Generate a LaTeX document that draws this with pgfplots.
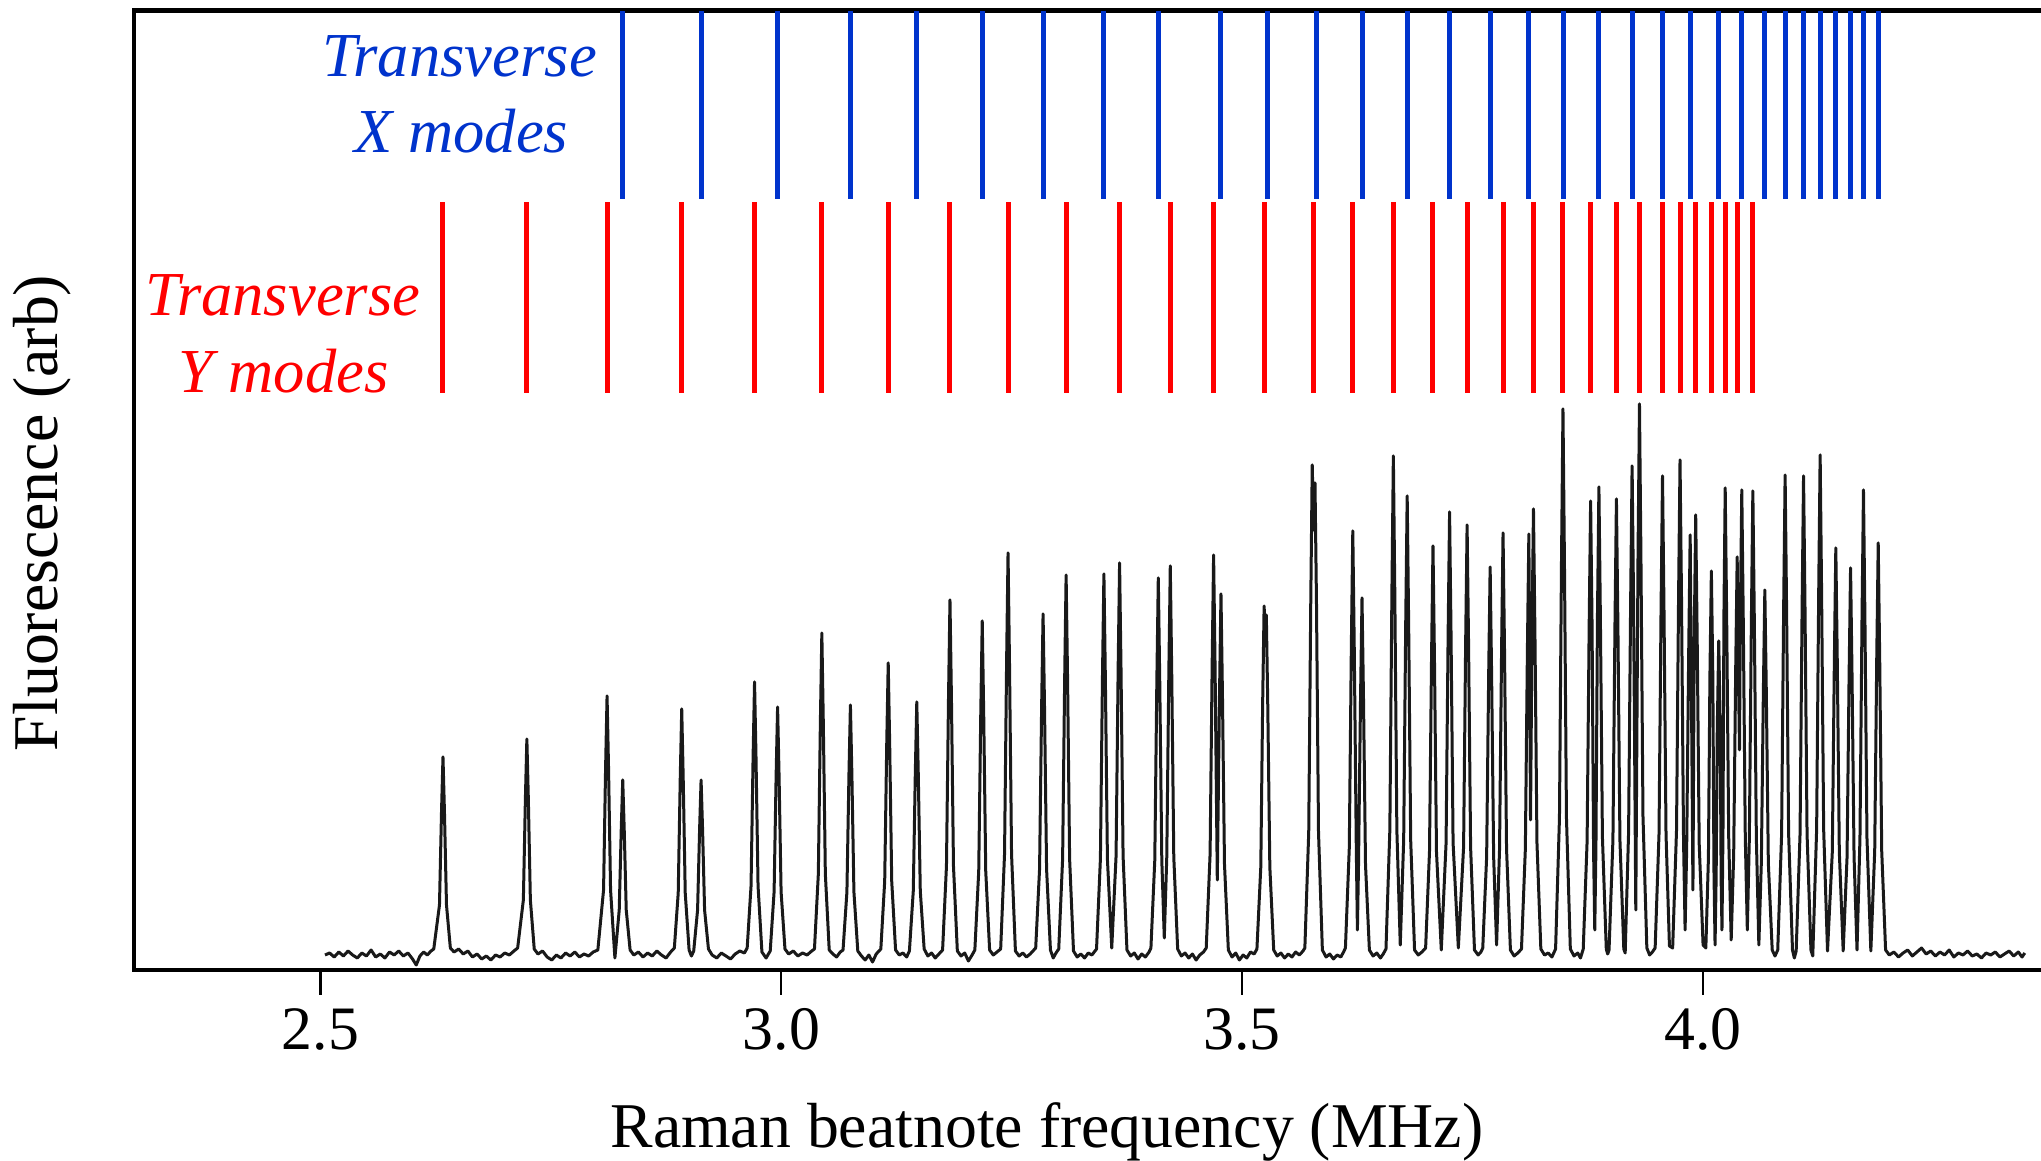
\documentclass[border=0pt]{standalone}
\usepackage{pgfplots}
\pgfplotsset{compat=1.18}
\usepackage{fontspec}
\setmainfont{Liberation Serif}
\definecolor{xblue}{RGB}{0,51,204}
\definecolor{yred}{RGB}{255,0,0}
\begin{document}
\begin{tikzpicture}
\begin{axis}[
  at={(0,0)}, anchor=south west,
  scale only axis, width=476.75bp, height=239.8bp,
  xmin=2.2978, xmax=4.3666, ymin=0, ymax=959,
  axis x line=box, axis y line=left,
  axis line style={-, line width=1.2bp, line cap=rect},
  xtick={2.5,3.0,3.5,4.0}, xticklabels={2.5,3.0,3.5,4.0},
  xtick pos=bottom, ytick=\empty,
  tick align=outside, major tick length=6.2bp,
  tick style={line width=0.6bp, black},
  xticklabel style={font=\fontsize{15.5}{15.5}\selectfont},
  xlabel={Raman beatnote frequency (MHz)},
  ylabel={Fluorescence (arb)},
  label style={font=\fontsize{16}{16}\selectfont},
  xlabel style={at={(axis description cs:0.4787,0)}, anchor=center, yshift=-40.4bp},
  ylabel style={at={(axis description cs:-0.048,0.4765)}, anchor=center},
  unbounded coords=jump,
]
% transverse X modes (blue)
\addplot[xblue, line width=1.25bp] coordinates {
(2.828,771) (2.828,959) (2.828,nan)
(2.913,771) (2.913,959) (2.913,nan)
(2.996,771) (2.996,959) (2.996,nan)
(3.075,771) (3.075,959) (3.075,nan)
(3.147,771) (3.147,959) (3.147,nan)
(3.218,771) (3.218,959) (3.218,nan)
(3.284,771) (3.284,959) (3.284,nan)
(3.350,771) (3.350,959) (3.350,nan)
(3.409,771) (3.409,959) (3.409,nan)
(3.477,771) (3.477,959) (3.477,nan)
(3.528,771) (3.528,959) (3.528,nan)
(3.581,771) (3.581,959) (3.581,nan)
(3.630,771) (3.630,959) (3.630,nan)
(3.679,771) (3.679,959) (3.679,nan)
(3.725,771) (3.725,959) (3.725,nan)
(3.769,771) (3.769,959) (3.769,nan)
(3.811,771) (3.811,959) (3.811,nan)
(3.849,771) (3.849,959) (3.849,nan)
(3.887,771) (3.887,959) (3.887,nan)
(3.923,771) (3.923,959) (3.923,nan)
(3.956,771) (3.956,959) (3.956,nan)
(3.986,771) (3.986,959) (3.986,nan)
(4.017,771) (4.017,959) (4.017,nan)
(4.042,771) (4.042,959) (4.042,nan)
(4.067,771) (4.067,959) (4.067,nan)
(4.089,771) (4.089,959) (4.089,nan)
(4.109,771) (4.109,959) (4.109,nan)
(4.127,771) (4.127,959) (4.127,nan)
(4.144,771) (4.144,959) (4.144,nan)
(4.160,771) (4.160,959) (4.160,nan)
(4.174,771) (4.174,959) (4.174,nan)
(4.190,771) (4.190,959)
};
% transverse Y modes (red)
\addplot[yred, line width=1.25bp] coordinates {
(2.633,577) (2.633,768) (2.633,nan)
(2.724,577) (2.724,768) (2.724,nan)
(2.811,577) (2.811,768) (2.811,nan)
(2.892,577) (2.892,768) (2.892,nan)
(2.971,577) (2.971,768) (2.971,nan)
(3.044,577) (3.044,768) (3.044,nan)
(3.116,577) (3.116,768) (3.116,nan)
(3.183,577) (3.183,768) (3.183,nan)
(3.246,577) (3.246,768) (3.246,nan)
(3.309,577) (3.309,768) (3.309,nan)
(3.367,577) (3.367,768) (3.367,nan)
(3.422,577) (3.422,768) (3.422,nan)
(3.469,577) (3.469,768) (3.469,nan)
(3.524,577) (3.524,768) (3.524,nan)
(3.577,577) (3.577,768) (3.577,nan)
(3.620,577) (3.620,768) (3.620,nan)
(3.664,577) (3.664,768) (3.664,nan)
(3.707,577) (3.707,768) (3.707,nan)
(3.744,577) (3.744,768) (3.744,nan)
(3.783,577) (3.783,768) (3.783,nan)
(3.816,577) (3.816,768) (3.816,nan)
(3.848,577) (3.848,768) (3.848,nan)
(3.878,577) (3.878,768) (3.878,nan)
(3.906,577) (3.906,768) (3.906,nan)
(3.931,577) (3.931,768) (3.931,nan)
(3.956,577) (3.956,768) (3.956,nan)
(3.975,577) (3.975,768) (3.975,nan)
(3.992,577) (3.992,768) (3.992,nan)
(4.009,577) (4.009,768) (4.009,nan)
(4.024,577) (4.024,768) (4.024,nan)
(4.037,577) (4.037,768) (4.037,nan)
(4.054,577) (4.054,768)
};
% fluorescence spectrum
\addplot[black!90, line width=0.75bp, line join=round] coordinates {
(2.505,15) (2.510,17) (2.515,13) (2.520,18) (2.525,14) (2.530,19) (2.535,15) (2.540,12) (2.545,17) (2.550,14) (2.555,20) (2.560,13) (2.565,16) (2.570,12) (2.575,18) (2.580,15) (2.585,19) (2.590,14) (2.595,17) (2.600,11) (2.604,5) (2.608,14) (2.612,18) (2.616,15) (2.620,19) (2.623,21)
(2.6292,65) (2.6314,158) (2.633,213) (2.6346,158) (2.6368,65) (2.641,22)
(2.645,18) (2.650,21) (2.655,16) (2.660,19) (2.665,13) (2.670,16) (2.675,11) (2.680,14) (2.685,10) (2.690,15) (2.695,13) (2.700,17) (2.705,15) (2.710,19) (2.714,22)
(2.7202,70) (2.7224,171) (2.724,231) (2.7256,171) (2.7278,70) (2.732,21)
(2.736,16) (2.741,19) (2.746,13) (2.751,10) (2.756,15) (2.761,12) (2.766,17) (2.771,14) (2.776,18) (2.781,13) (2.786,16) (2.791,14) (2.796,18) (2.801,20)
(2.8072,80) (2.8094,202) (2.811,274) (2.8126,202) (2.8148,80) (2.8195,12) (2.8242,60) (2.8264,141) (2.828,190) (2.8296,141) (2.8318,60) (2.836,20)
(2.840,15) (2.845,18) (2.850,13) (2.855,17) (2.860,14) (2.865,19) (2.870,15) (2.875,12) (2.880,18) (2.884,22)
(2.8882,77) (2.8904,192) (2.892,261) (2.8936,192) (2.8958,77) (2.900,20) (2.9025,14) (2.905,19) (2.9092,60) (2.9114,141) (2.913,190) (2.9146,141) (2.9168,60) (2.921,21)
(2.925,15) (2.930,12) (2.935,17) (2.940,14) (2.945,11) (2.950,16) (2.955,19) (2.960,17) (2.963,22)
(2.9672,84) (2.9694,212) (2.971,288) (2.9726,212) (2.9748,84) (2.979,18) (2.9835,12) (2.988,19) (2.9922,78) (2.9944,194) (2.996,263) (2.9976,194) (2.9998,78) (3.004,21)
(3.008,16) (3.013,19) (3.018,14) (3.023,17) (3.028,15) (3.033,19) (3.036,21)
(3.0402,96) (3.0424,247) (3.044,337) (3.0456,247) (3.0478,96) (3.052,20)
(3.056,16) (3.060,13) (3.064,18) (3.067,20)
(3.0712,78) (3.0734,195) (3.075,265) (3.0766,195) (3.0788,78) (3.083,19)
(3.087,14) (3.091,10) (3.095,15) (3.099,8) (3.103,16) (3.108,21)
(3.1122,89) (3.1144,226) (3.116,307) (3.1176,226) (3.1198,89) (3.124,20)
(3.128,15) (3.132,17) (3.136,13) (3.139,19)
(3.1432,79) (3.1454,197) (3.147,268) (3.1486,197) (3.1508,79) (3.155,21)
(3.159,14) (3.163,17) (3.167,12) (3.171,16) (3.175,20)
(3.1792,104) (3.1814,271) (3.183,370) (3.1846,271) (3.1868,104) (3.191,19)
(3.195,14) (3.199,17) (3.203,9) (3.207,15) (3.210,20)
(3.2142,99) (3.2164,256) (3.218,349) (3.2196,256) (3.2218,99) (3.226,20)
(3.230,15) (3.234,18) (3.238,21)
(3.2422,116) (3.2444,305) (3.246,417) (3.2476,305) (3.2498,116) (3.254,19)
(3.258,14) (3.262,17) (3.266,13) (3.270,16) (3.273,19) (3.276,22)
(3.2802,101) (3.2824,261) (3.284,356) (3.2856,261) (3.2878,101) (3.292,20)
(3.295,12) (3.298,17) (3.301,21)
(3.3052,111) (3.3074,289) (3.309,395) (3.3106,289) (3.3128,111) (3.317,19)
(3.321,13) (3.325,16) (3.329,12) (3.333,17) (3.337,15) (3.342,21)
(3.3462,111) (3.3484,290) (3.350,396) (3.3516,290) (3.3538,111) (3.3585,22) (3.3632,114) (3.3654,298) (3.367,407) (3.3686,298) (3.3708,114) (3.375,20)
(3.379,14) (3.383,17) (3.387,11) (3.391,16) (3.395,13) (3.399,18) (3.401,22)
(3.4052,110) (3.4074,287) (3.409,392) (3.4106,287) (3.4128,110) (3.4155,32) (3.4182,113) (3.4204,295) (3.422,404) (3.4236,295) (3.4258,113) (3.430,21)
(3.434,14) (3.438,17) (3.442,12) (3.446,16) (3.450,10) (3.454,15) (3.458,18) (3.461,22)
(3.4652,116) (3.4674,303) (3.469,415) (3.4706,303) (3.473,90) (3.4754,275) (3.477,376) (3.4786,275) (3.4808,106) (3.485,20)
(3.489,13) (3.493,17) (3.497,10) (3.501,15) (3.505,12) (3.509,18) (3.513,16) (3.516,21)
(3.5202,103) (3.5222,266) (3.5238,364) (3.5250,335) (3.5262,355) (3.5278,262) (3.530,103) (3.5342,20)
(3.538,14) (3.542,17) (3.546,12) (3.550,16) (3.554,13) (3.558,18) (3.562,15) (3.566,19) (3.568,22)
(3.5722,138) (3.5744,368) (3.576,505) (3.5775,440) (3.579,487) (3.5806,368) (3.5828,138) (3.587,20)
(3.591,13) (3.595,16) (3.599,11) (3.603,15) (3.607,13) (3.610,18) (3.612,22)
(3.6162,122) (3.6184,321) (3.620,439) (3.6216,321) (3.6238,122) (3.625,40) (3.6262,105) (3.6284,272) (3.630,372) (3.6316,272) (3.6338,105) (3.638,20)
(3.642,14) (3.646,17) (3.650,12) (3.653,16) (3.656,21)
(3.6602,140) (3.6624,375) (3.664,514) (3.6656,375) (3.6678,140) (3.6715,25) (3.6752,130) (3.6774,346) (3.679,474) (3.6806,346) (3.6828,130) (3.687,20)
(3.691,15) (3.695,18) (3.699,22)
(3.7032,118) (3.7054,310) (3.707,424) (3.7086,310) (3.7108,118) (3.716,20) (3.7212,127) (3.7234,334) (3.725,458) (3.7266,334) (3.7288,127) (3.7345,22) (3.7402,123) (3.7424,325) (3.744,445) (3.7456,325) (3.7478,123) (3.752,20)
(3.756,15) (3.759,18) (3.761,22)
(3.7652,113) (3.7674,295) (3.769,403) (3.7706,295) (3.7728,113) (3.776,25) (3.7792,121) (3.7814,319) (3.783,437) (3.7846,319) (3.7868,121) (3.791,20)
(3.795,14) (3.799,17) (3.803,21)
(3.8072,121) (3.8094,318) (3.811,436) (3.8128,150) (3.8144,336) (3.816,461) (3.8176,336) (3.8198,127) (3.824,21)
(3.828,15) (3.832,17) (3.836,13) (3.840,21)
(3.8442,152) (3.8464,408) (3.848,561) (3.8496,408) (3.8518,152) (3.856,21)
(3.860,14) (3.864,17) (3.867,12) (3.870,21)
(3.8742,129) (3.8764,342) (3.878,469) (3.8796,342) (3.8812,120) (3.8825,40) (3.8838,125) (3.8854,352) (3.887,483) (3.8886,352) (3.8908,133) (3.895,21)
(3.8965,16) (3.898,20)
(3.9022,130) (3.9044,344) (3.906,471) (3.9076,344) (3.9098,130) (3.914,21) (3.9155,17)
(3.9192,138) (3.9214,367) (3.923,504) (3.9246,367) (3.927,60) (3.9294,412) (3.931,566) (3.9326,412) (3.9348,154) (3.939,22)
(3.942,15) (3.945,18) (3.948,22)
(3.9522,136) (3.9544,360) (3.956,494) (3.9576,360) (3.9598,136) (3.9635,24) (3.967,22)
(3.9712,140) (3.9734,372) (3.975,510) (3.9766,372) (3.9788,130) (3.9805,40) (3.9822,121) (3.9844,318) (3.986,435) (3.9876,250) (3.989,80) (3.9904,332) (3.992,455) (3.9936,332) (3.9958,126) (4.000,25)
(4.003,22) (4.0058,112) (4.0074,292) (4.009,399) (4.0106,292) (4.0118,100) (4.013,25) (4.0142,94) (4.0154,241) (4.017,329) (4.0186,241) (4.0196,90) (4.0205,40) (4.0216,140) (4.0226,352) (4.024,482) (4.0256,352) (4.0278,133) (4.0305,30)
(4.0332,115) (4.0354,302) (4.037,413) (4.0386,280) (4.0395,220) (4.0404,350) (4.042,480) (4.0436,350) (4.0458,132) (4.048,40)
(4.0502,132) (4.0524,349) (4.054,479) (4.0556,349) (4.0578,132) (4.0605,25)
(4.0632,107) (4.0654,278) (4.067,380) (4.0686,278) (4.0708,107) (4.075,20)
(4.078,14) (4.081,20)
(4.0852,136) (4.0874,361) (4.089,495) (4.0906,361) (4.0928,136) (4.097,20)
(4.099,12) (4.101,19)
(4.1052,136) (4.1074,360) (4.109,494) (4.1106,360) (4.1128,136) (4.117,20) (4.119,14)
(4.1232,141) (4.1254,375) (4.127,515) (4.1286,375) (4.1308,141) (4.135,19)
(4.1402,118) (4.1424,308) (4.144,422) (4.1456,308) (4.1478,118) (4.152,19)
(4.1562,113) (4.1584,294) (4.160,402) (4.1616,294) (4.1638,113) (4.167,20)
(4.1702,132) (4.1724,350) (4.174,480) (4.1756,350) (4.1778,132) (4.182,19)
(4.1862,119) (4.1884,312) (4.190,427) (4.1916,312) (4.1938,119) (4.198,20)
(4.202,15) (4.207,18) (4.212,13) (4.217,17) (4.222,20) (4.227,14) (4.232,18) (4.237,22) (4.242,16) (4.247,19) (4.252,14) (4.257,18) (4.262,15) (4.267,20) (4.272,13) (4.277,17) (4.282,15) (4.287,19) (4.292,14) (4.297,16) (4.302,12) (4.307,17) (4.312,15) (4.317,18) (4.322,13) (4.327,16) (4.332,19) (4.337,14) (4.342,18) (4.346,13) (4.349,17)
};
\node[anchor=base, text=xblue, font=\fontsize{15.7}{15.7}\selectfont\itshape] at (axis cs:2.651,893) {Transverse};
\node[anchor=base, text=xblue, font=\fontsize{15.7}{15.7}\selectfont\itshape] at (axis cs:2.653,817) {X modes};
\node[anchor=base, text=yred, font=\fontsize{15.7}{15.7}\selectfont\itshape] at (axis cs:2.4595,654) {Transverse};
\node[anchor=base, text=yred, font=\fontsize{15.7}{15.7}\selectfont\itshape] at (axis cs:2.4600,577) {Y modes};
\end{axis}
\pgfresetboundingbox
\useasboundingbox (-33.5bp,-47.75bp) rectangle (476.75bp,242.5bp);
\end{tikzpicture}
\end{document}
